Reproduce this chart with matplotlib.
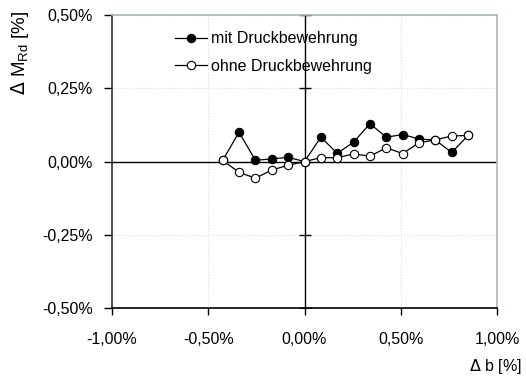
import numpy as np
import matplotlib
matplotlib.use('Agg')
import matplotlib.pyplot as plt
from matplotlib.ticker import FuncFormatter, MultipleLocator

plt.rcParams['font.family'] = ['Liberation Sans', 'DejaVu Sans']

# Breitenabweichung Delta b [%]
delta_b = [-0.425, -0.34, -0.255, -0.17, -0.085, 0.0, 0.085, 0.17,
           0.255, 0.34, 0.425, 0.51, 0.595, 0.68, 0.765, 0.85]
# Delta M_Rd [%]
mit_druck = [0.004, 0.100, 0.004, 0.009, 0.014, 0.0, 0.083, 0.028,
             0.066, 0.129, 0.083, 0.092, 0.077, 0.073, 0.031, 0.089]
ohne_druck = [0.004, -0.037, -0.057, -0.029, -0.013, 0.0, 0.013, 0.013,
              0.026, 0.018, 0.047, 0.027, 0.064, 0.074, 0.087, 0.089]

labels = ['mit Druckbewehrung', 'ohne Druckbewehrung']
fs = 11.5


def prozent(v, pos):
    return f"{v:.2f}%".replace('.', ',')


fig = plt.figure(figsize=(5.26, 3.81), dpi=100)
ax = fig.add_axes([112 / 526, 1 - 308 / 381, 385 / 526, 293 / 381])

ax.set_xlim(-1.0, 1.0)
ax.set_ylim(-0.5, 0.5)
ax.xaxis.set_major_locator(MultipleLocator(0.5))
ax.yaxis.set_major_locator(MultipleLocator(0.25))
ax.xaxis.set_major_formatter(FuncFormatter(prozent))
ax.yaxis.set_major_formatter(FuncFormatter(prozent))

# feines Raster
ax.grid(True, color='#dddddd', linestyle=':', linewidth=0.8)
ax.set_axisbelow(True)

# Nulllinien
ax.axhline(0, color='black', linewidth=1.0, zorder=2)
ax.axvline(0, color='black', linewidth=1.0, zorder=2)
yt = ax.get_yticks()
ax.plot([0] * len(yt), yt, ls='none', marker='_', ms=8, mew=1.0, color='black', zorder=2)

ax.plot(delta_b, mit_druck, color='black', lw=0.9, marker='o', ms=6,
        mfc='black', mec='black', mew=0.8, label=labels[0], zorder=3)
ax.plot(delta_b, ohne_druck, color='black', lw=0.9, marker='o', ms=6,
        mfc='white', mec='black', mew=0.8, label=labels[1], zorder=4)

for s in ['top', 'right']:
    ax.spines[s].set_color('#a8b8b8')
    ax.spines[s].set_linewidth(1.2)
ax.spines['left'].set_color('#333333')
ax.spines['left'].set_linewidth(1.2)
ax.spines['bottom'].set_color('black')
ax.spines['bottom'].set_linewidth(1.2)

ax.tick_params(axis='y', direction='out', length=6, width=1, pad=8, labelsize=fs)
ax.tick_params(axis='x', direction='out', length=5, width=1, pad=12, labelsize=fs)

leg = ax.legend(loc='upper left', bbox_to_anchor=(0.163, 0.945), frameon=False,
                fontsize=fs, handlelength=2.0, handletextpad=0.25,
                labelspacing=0.8, borderpad=0, borderaxespad=0)

fig.text(20 / 526, 1 - 53 / 381, r'$\Delta$ M$_{\mathregular{Rd}}$ [%]', rotation=90,
         ha='center', va='center', fontsize=13.5)
fig.text(522 / 526, 1 - 367 / 381, r'$\Delta$ b [%]', ha='right', va='center', fontsize=fs)

fig.savefig('out.png', dpi=100)
